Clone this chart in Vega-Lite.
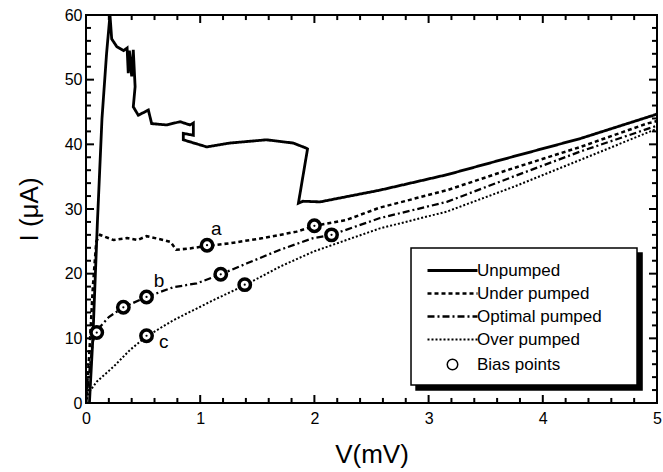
{
  "$schema": "https://vega.github.io/schema/vega-lite/v6.json",
  "autosize": "none",
  "width": 571,
  "height": 388,
  "padding": {"left": 86, "top": 15, "right": 6, "bottom": 69},
  "background": "white",
  "config": {
    "view": {"stroke": "black", "strokeWidth": 2},
    "font": "Liberation Sans",
    "axis": {"labelFont": "Liberation Sans", "titleFont": "Liberation Sans", "labelColor": "black", "titleColor": "black", "ticks": false, "domain": false, "grid": false, "titleFontWeight": "normal", "labelFlush": false, "labelOverlap": false}
  },
  "datasets": {
    "curves": [
      {"s": "Unpumped", "o": 1, "V": 0.03, "I": 0},
      {"s": "Unpumped", "o": 2, "V": 0.06, "I": 10},
      {"s": "Unpumped", "o": 3, "V": 0.1, "I": 28},
      {"s": "Unpumped", "o": 4, "V": 0.14, "I": 44},
      {"s": "Unpumped", "o": 5, "V": 0.18, "I": 54},
      {"s": "Unpumped", "o": 6, "V": 0.21, "I": 60},
      {"s": "Unpumped", "o": 7, "V": 0.225, "I": 56.3},
      {"s": "Unpumped", "o": 8, "V": 0.27, "I": 55.1},
      {"s": "Unpumped", "o": 9, "V": 0.33, "I": 54.5},
      {"s": "Unpumped", "o": 10, "V": 0.36, "I": 54.9},
      {"s": "Unpumped", "o": 11, "V": 0.37, "I": 51},
      {"s": "Unpumped", "o": 12, "V": 0.38, "I": 54.5},
      {"s": "Unpumped", "o": 13, "V": 0.4, "I": 50.5},
      {"s": "Unpumped", "o": 14, "V": 0.414, "I": 54.6},
      {"s": "Unpumped", "o": 15, "V": 0.43, "I": 48.9},
      {"s": "Unpumped", "o": 16, "V": 0.414, "I": 45.8},
      {"s": "Unpumped", "o": 17, "V": 0.458, "I": 44.5},
      {"s": "Unpumped", "o": 18, "V": 0.546, "I": 45.3},
      {"s": "Unpumped", "o": 19, "V": 0.575, "I": 43.2},
      {"s": "Unpumped", "o": 20, "V": 0.707, "I": 43.0},
      {"s": "Unpumped", "o": 21, "V": 0.823, "I": 43.5},
      {"s": "Unpumped", "o": 22, "V": 0.91, "I": 43.0},
      {"s": "Unpumped", "o": 23, "V": 0.94, "I": 43.3},
      {"s": "Unpumped", "o": 24, "V": 0.94, "I": 41.4},
      {"s": "Unpumped", "o": 25, "V": 0.852, "I": 41.7},
      {"s": "Unpumped", "o": 26, "V": 0.852, "I": 40.7},
      {"s": "Unpumped", "o": 27, "V": 1.057, "I": 39.6},
      {"s": "Unpumped", "o": 28, "V": 1.26, "I": 40.2},
      {"s": "Unpumped", "o": 29, "V": 1.58, "I": 40.7},
      {"s": "Unpumped", "o": 30, "V": 1.815, "I": 40.2},
      {"s": "Unpumped", "o": 31, "V": 1.93, "I": 39.4},
      {"s": "Unpumped", "o": 32, "V": 1.94, "I": 39.3},
      {"s": "Unpumped", "o": 33, "V": 1.86, "I": 30.9},
      {"s": "Unpumped", "o": 34, "V": 1.9, "I": 31.2},
      {"s": "Unpumped", "o": 35, "V": 2.05, "I": 31.1},
      {"s": "Unpumped", "o": 36, "V": 2.28, "I": 31.9},
      {"s": "Unpumped", "o": 37, "V": 2.57, "I": 32.9},
      {"s": "Unpumped", "o": 38, "V": 3.16, "I": 35.3},
      {"s": "Unpumped", "o": 39, "V": 3.74, "I": 38.1},
      {"s": "Unpumped", "o": 40, "V": 4.33, "I": 40.9},
      {"s": "Unpumped", "o": 41, "V": 4.97, "I": 44.5},
      {"s": "Unpumped", "o": 42, "V": 5.0, "I": 44.7},

      {"s": "Under pumped", "o": 1, "V": 0, "I": 0},
      {"s": "Under pumped", "o": 2, "V": 0.03, "I": 8},
      {"s": "Under pumped", "o": 3, "V": 0.06, "I": 18},
      {"s": "Under pumped", "o": 4, "V": 0.09, "I": 25},
      {"s": "Under pumped", "o": 5, "V": 0.123, "I": 26.0},
      {"s": "Under pumped", "o": 6, "V": 0.24, "I": 25.2},
      {"s": "Under pumped", "o": 7, "V": 0.36, "I": 25.5},
      {"s": "Under pumped", "o": 8, "V": 0.45, "I": 25.2},
      {"s": "Under pumped", "o": 9, "V": 0.53, "I": 25.8},
      {"s": "Under pumped", "o": 10, "V": 0.68, "I": 25.2},
      {"s": "Under pumped", "o": 11, "V": 0.74, "I": 24.9},
      {"s": "Under pumped", "o": 12, "V": 0.79, "I": 23.7},
      {"s": "Under pumped", "o": 13, "V": 0.91, "I": 23.9},
      {"s": "Under pumped", "o": 14, "V": 1.057, "I": 24.3},
      {"s": "Under pumped", "o": 15, "V": 1.26, "I": 24.7},
      {"s": "Under pumped", "o": 16, "V": 1.55, "I": 25.5},
      {"s": "Under pumped", "o": 17, "V": 1.845, "I": 26.5},
      {"s": "Under pumped", "o": 18, "V": 2.005, "I": 27.4},
      {"s": "Under pumped", "o": 19, "V": 2.28, "I": 28.3},
      {"s": "Under pumped", "o": 20, "V": 2.57, "I": 30.2},
      {"s": "Under pumped", "o": 21, "V": 3.16, "I": 32.9},
      {"s": "Under pumped", "o": 22, "V": 3.74, "I": 36.3},
      {"s": "Under pumped", "o": 23, "V": 4.33, "I": 39.6},
      {"s": "Under pumped", "o": 24, "V": 4.91, "I": 43.2},
      {"s": "Under pumped", "o": 25, "V": 5.0, "I": 43.6},

      {"s": "Optimal pumped", "o": 1, "V": 0, "I": 0},
      {"s": "Optimal pumped", "o": 2, "V": 0.03, "I": 5},
      {"s": "Optimal pumped", "o": 3, "V": 0.06, "I": 9.5},
      {"s": "Optimal pumped", "o": 4, "V": 0.094, "I": 11.2},
      {"s": "Optimal pumped", "o": 5, "V": 0.2, "I": 13.3},
      {"s": "Optimal pumped", "o": 6, "V": 0.327, "I": 14.8},
      {"s": "Optimal pumped", "o": 7, "V": 0.53, "I": 16.4},
      {"s": "Optimal pumped", "o": 8, "V": 0.765, "I": 17.9},
      {"s": "Optimal pumped", "o": 9, "V": 0.97, "I": 18.5},
      {"s": "Optimal pumped", "o": 10, "V": 1.18, "I": 19.9},
      {"s": "Optimal pumped", "o": 11, "V": 1.41, "I": 21.6},
      {"s": "Optimal pumped", "o": 12, "V": 1.7, "I": 23.7},
      {"s": "Optimal pumped", "o": 13, "V": 1.99, "I": 25.5},
      {"s": "Optimal pumped", "o": 14, "V": 2.15, "I": 26.0},
      {"s": "Optimal pumped", "o": 15, "V": 2.574, "I": 28.6},
      {"s": "Optimal pumped", "o": 16, "V": 3.16, "I": 31.1},
      {"s": "Optimal pumped", "o": 17, "V": 3.74, "I": 35.0},
      {"s": "Optimal pumped", "o": 18, "V": 4.33, "I": 38.9},
      {"s": "Optimal pumped", "o": 19, "V": 4.97, "I": 42.7},
      {"s": "Optimal pumped", "o": 20, "V": 5.0, "I": 42.9},

      {"s": "Over pumped", "o": 1, "V": 0, "I": 0},
      {"s": "Over pumped", "o": 2, "V": 0.02, "I": 1.5},
      {"s": "Over pumped", "o": 3, "V": 0.094, "I": 3.3},
      {"s": "Over pumped", "o": 4, "V": 0.24, "I": 5.6},
      {"s": "Over pumped", "o": 5, "V": 0.385, "I": 8.2},
      {"s": "Over pumped", "o": 6, "V": 0.53, "I": 10.3},
      {"s": "Over pumped", "o": 7, "V": 0.765, "I": 12.8},
      {"s": "Over pumped", "o": 8, "V": 1.115, "I": 15.9},
      {"s": "Over pumped", "o": 9, "V": 1.39, "I": 18.2},
      {"s": "Over pumped", "o": 10, "V": 1.7, "I": 21.1},
      {"s": "Over pumped", "o": 11, "V": 1.99, "I": 23.4},
      {"s": "Over pumped", "o": 12, "V": 2.28, "I": 25.2},
      {"s": "Over pumped", "o": 13, "V": 2.574, "I": 27.0},
      {"s": "Over pumped", "o": 14, "V": 3.16, "I": 29.6},
      {"s": "Over pumped", "o": 15, "V": 3.74, "I": 33.4},
      {"s": "Over pumped", "o": 16, "V": 4.33, "I": 37.6},
      {"s": "Over pumped", "o": 17, "V": 4.97, "I": 42.2},
      {"s": "Over pumped", "o": 18, "V": 5.0, "I": 42.4}
    ],
    "bias": [
      {"k": "Bias points", "V": 0.094, "I": 10.9},
      {"k": "Bias points", "V": 0.327, "I": 14.8},
      {"k": "Bias points", "V": 0.53, "I": 16.4},
      {"k": "Bias points", "V": 1.18, "I": 19.9},
      {"k": "Bias points", "V": 2.15, "I": 26.0},
      {"k": "Bias points", "V": 1.06, "I": 24.4},
      {"k": "Bias points", "V": 2.0, "I": 27.4},
      {"k": "Bias points", "V": 0.53, "I": 10.4},
      {"k": "Bias points", "V": 1.39, "I": 18.3}
    ],
    "labels": [
      {"t": "a", "V": 1.14, "I": 26.9},
      {"t": "b", "V": 0.64, "I": 18.9},
      {"t": "c", "V": 0.68, "I": 9.4}
    ],
    "box": [
      {"x1": 2.89, "x2": 4.869, "y1": 2.0, "y2": 23.2, "r": "shadow"},
      {"x1": 2.846, "x2": 4.825, "y1": 2.78, "y2": 23.97, "r": "box"}
    ],
    "xticks": [
      {"v": 0, "m": "major"}, {"v": 0.2, "m": "minor"}, {"v": 0.4, "m": "minor"}, {"v": 0.6, "m": "minor"}, {"v": 0.8, "m": "minor"},
      {"v": 1, "m": "major"}, {"v": 1.2, "m": "minor"}, {"v": 1.4, "m": "minor"}, {"v": 1.6, "m": "minor"}, {"v": 1.8, "m": "minor"},
      {"v": 2, "m": "major"}, {"v": 2.2, "m": "minor"}, {"v": 2.4, "m": "minor"}, {"v": 2.6, "m": "minor"}, {"v": 2.8, "m": "minor"},
      {"v": 3, "m": "major"}, {"v": 3.2, "m": "minor"}, {"v": 3.4, "m": "minor"}, {"v": 3.6, "m": "minor"}, {"v": 3.8, "m": "minor"},
      {"v": 4, "m": "major"}, {"v": 4.2, "m": "minor"}, {"v": 4.4, "m": "minor"}, {"v": 4.6, "m": "minor"}, {"v": 4.8, "m": "minor"},
      {"v": 5, "m": "major"}
    ],
    "yticks": [
      {"v": 0, "m": "major"}, {"v": 2, "m": "minor"}, {"v": 4, "m": "minor"}, {"v": 6, "m": "minor"}, {"v": 8, "m": "minor"},
      {"v": 10, "m": "major"}, {"v": 12, "m": "minor"}, {"v": 14, "m": "minor"}, {"v": 16, "m": "minor"}, {"v": 18, "m": "minor"},
      {"v": 20, "m": "major"}, {"v": 22, "m": "minor"}, {"v": 24, "m": "minor"}, {"v": 26, "m": "minor"}, {"v": 28, "m": "minor"},
      {"v": 30, "m": "major"}, {"v": 32, "m": "minor"}, {"v": 34, "m": "minor"}, {"v": 36, "m": "minor"}, {"v": 38, "m": "minor"},
      {"v": 40, "m": "major"}, {"v": 42, "m": "minor"}, {"v": 44, "m": "minor"}, {"v": 46, "m": "minor"}, {"v": 48, "m": "minor"},
      {"v": 50, "m": "major"}, {"v": 52, "m": "minor"}, {"v": 54, "m": "minor"}, {"v": 56, "m": "minor"}, {"v": 58, "m": "minor"},
      {"v": 60, "m": "major"}
    ]
  },
  "layer": [
    {
      "data": {"name": "box"},
      "mark": {"type": "rect", "stroke": "black", "strokeWidth": 1.5},
      "encoding": {
        "x": {"field": "x1", "type": "quantitative", "scale": {"domain": [0, 5], "nice": false}},
        "x2": {"field": "x2"},
        "y": {"field": "y1", "type": "quantitative", "scale": {"domain": [0, 60], "nice": false}},
        "y2": {"field": "y2"},
        "fill": {"field": "r", "type": "nominal", "scale": {"domain": ["shadow", "box"], "range": ["black", "white"]}, "legend": null}
      }
    },
    {
      "data": {"name": "curves"},
      "mark": {"type": "line", "stroke": "black", "clip": true},
      "encoding": {
        "x": {"field": "V", "type": "quantitative", "scale": {"domain": [0, 5], "nice": false},
          "axis": {"orient": "bottom", "values": [0, 1, 2, 3, 4, 5], "format": "d",
            "labelFontSize": 16, "labelPadding": 7,
            "title": "V(mV)", "titleFontSize": 26, "titlePadding": 15}},
        "y": {"field": "I", "type": "quantitative", "scale": {"domain": [0, 60], "nice": false},
          "axis": {"orient": "left", "values": [0, 10, 20, 30, 40, 50, 60], "format": "d",
            "labelFontSize": 16, "labelPadding": 4,
            "title": "I (μA)", "titleFontSize": 26, "titlePadding": 22}},
        "order": {"field": "o", "type": "quantitative"},
        "strokeWidth": {"field": "s", "type": "nominal", "scale": {"domain": ["Unpumped", "Under pumped", "Optimal pumped", "Over pumped"], "range": [2.8, 2, 2, 2]}, "legend": null},
        "strokeDash": {"field": "s", "type": "nominal",
          "scale": {"domain": ["Unpumped", "Under pumped", "Optimal pumped", "Over pumped"], "range": [[1, 0], [4, 3], [7, 3, 2, 3], [2, 2]]},
          "legend": {"orient": "none", "legendX": 358, "legendY": 247, "title": null, "symbolType": "M-5,0H5", "symbolSize": 100, "symbolStrokeWidth": 2, "symbolStrokeColor": "black", "labelFontSize": 17, "labelFont": "Liberation Sans", "labelColor": "black", "labelOffset": 16, "rowPadding": 5}}
      }
    },
    {
      "data": {"name": "bias"},
      "mark": {"type": "point", "filled": true, "fill": "white", "stroke": "black", "strokeWidth": 3.5, "size": 130, "opacity": 1},
      "encoding": {
        "x": {"field": "V", "type": "quantitative"},
        "y": {"field": "I", "type": "quantitative"},
        "shape": {"field": "k", "type": "nominal", "scale": {"domain": ["Bias points"], "range": ["circle"]},
          "legend": {"orient": "none", "legendX": 358, "legendY": 341, "title": null, "symbolType": "circle", "symbolSize": 110, "labelFontSize": 17, "labelFont": "Liberation Sans", "labelColor": "black", "labelOffset": 16,
            "encode": {"symbols": {"update": {"fill": {"value": "white"}, "stroke": {"value": "black"}, "strokeWidth": {"value": 3.5}, "opacity": {"value": 1}}}}}}
      }
    },
    {
      "data": {"name": "bias"},
      "mark": {"type": "point", "filled": true, "color": "black", "size": 5, "opacity": 1},
      "encoding": {
        "x": {"field": "V", "type": "quantitative"},
        "y": {"field": "I", "type": "quantitative"}
      }
    },
    {
      "data": {"name": "labels"},
      "mark": {"type": "text", "fontSize": 19, "font": "Liberation Sans", "color": "black", "align": "center", "baseline": "middle"},
      "encoding": {
        "x": {"field": "V", "type": "quantitative"},
        "y": {"field": "I", "type": "quantitative"},
        "text": {"field": "t"}
      }
    },
    {
      "data": {"name": "xticks"},
      "transform": [{"filter": "datum.m == 'major'"}],
      "mark": {"type": "rule", "color": "black", "strokeWidth": 2},
      "encoding": {"x": {"field": "v", "type": "quantitative"}, "y": {"datum": 0}, "y2": {"datum": 1.24}}
    },
    {
      "data": {"name": "xticks"},
      "transform": [{"filter": "datum.m == 'minor'"}],
      "mark": {"type": "rule", "color": "black", "strokeWidth": 2},
      "encoding": {"x": {"field": "v", "type": "quantitative"}, "y": {"datum": 0}, "y2": {"datum": 0.78}}
    },
    {
      "data": {"name": "xticks"},
      "transform": [{"filter": "datum.m == 'major'"}],
      "mark": {"type": "rule", "color": "black", "strokeWidth": 2},
      "encoding": {"x": {"field": "v", "type": "quantitative"}, "y": {"datum": 60}, "y2": {"datum": 58.76}}
    },
    {
      "data": {"name": "xticks"},
      "transform": [{"filter": "datum.m == 'minor'"}],
      "mark": {"type": "rule", "color": "black", "strokeWidth": 2},
      "encoding": {"x": {"field": "v", "type": "quantitative"}, "y": {"datum": 60}, "y2": {"datum": 59.22}}
    },
    {
      "data": {"name": "yticks"},
      "transform": [{"filter": "datum.m == 'major'"}],
      "mark": {"type": "rule", "color": "black", "strokeWidth": 2},
      "encoding": {"y": {"field": "v", "type": "quantitative"}, "x": {"datum": 0}, "x2": {"datum": 0.07}}
    },
    {
      "data": {"name": "yticks"},
      "transform": [{"filter": "datum.m == 'minor'"}],
      "mark": {"type": "rule", "color": "black", "strokeWidth": 2},
      "encoding": {"y": {"field": "v", "type": "quantitative"}, "x": {"datum": 0}, "x2": {"datum": 0.044}}
    },
    {
      "data": {"name": "yticks"},
      "transform": [{"filter": "datum.m == 'major'"}],
      "mark": {"type": "rule", "color": "black", "strokeWidth": 2},
      "encoding": {"y": {"field": "v", "type": "quantitative"}, "x": {"datum": 5}, "x2": {"datum": 4.93}}
    },
    {
      "data": {"name": "yticks"},
      "transform": [{"filter": "datum.m == 'minor'"}],
      "mark": {"type": "rule", "color": "black", "strokeWidth": 2},
      "encoding": {"y": {"field": "v", "type": "quantitative"}, "x": {"datum": 5}, "x2": {"datum": 4.956}}
    }
  ]
}
